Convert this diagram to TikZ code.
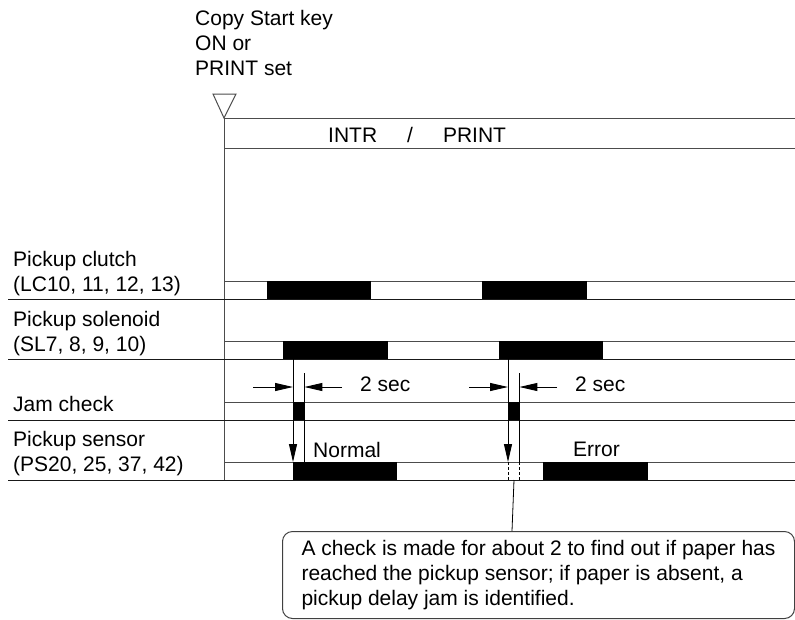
\documentclass[tikz,border=0pt]{standalone}
\usepackage{fontspec}
\setmainfont{Liberation Sans}
\usetikzlibrary{arrows.meta,positioning,calc}

\begin{document}
\begin{tikzpicture}[
    x=1pt, y=-1pt,
    every node/.style={font=\fontsize{21}{25}\selectfont},
    rowname/.style={anchor=north west, align=left, inner sep=0pt},
    timetext/.style={anchor=north west, inner sep=0pt},
    sigline/.style={draw=black!70, line width=1pt},
    rowline/.style={draw=black!90, line width=1pt},
    pulse/.style={rectangle, fill=black, draw=none, inner sep=0pt, minimum height=18pt, anchor=north west},
    arrow/.style={line width=0.9pt, -{Triangle[length=18pt, width=8pt]}},
    note/.style={rectangle, rounded corners=10pt, draw=black!75, line width=1pt, anchor=north west, minimum width=512pt, minimum height=87pt, align=left}
]
    \useasboundingbox (0,0) rectangle (795,619);

    % texts
    \node[rowname] (start) at (195,10) {Copy Start key\\ON or\\PRINT set};
    \node[timetext] (mode) at (328,127) {INTR\hspace{30pt}/\hspace{30pt}PRINT};
    \node[rowname] (clutch) at (13,251) {Pickup clutch\\(LC10, 11, 12, 13)};
    \node[rowname] (solenoid) at (13,311) {Pickup solenoid\\(SL7, 8, 9, 10)};
    \node[rowname] (jam) at (13,396) {Jam check};
    \node[rowname] (sensor) at (13,431) {Pickup sensor\\(PS20, 25, 37, 42)};

    % frame and signal lines
    \draw[sigline] (213,94) -- (236,94) -- (224,118) -- cycle;
    \draw[sigline] (224,118) -- (795,118);
    \draw[sigline] (224,148) -- (795,148);
    \draw[sigline] (224,118) -- (224,480);
    \draw[sigline] (224,281) -- (795,281);
    \draw[sigline] (224,341) -- (795,341);
    \draw[sigline] (224,402) -- (795,402);
    \draw[sigline] (224,462) -- (795,462);
    \draw[rowline] (8,299) -- (795,299);
    \draw[rowline] (8,359) -- (795,359);
    \draw[rowline] (8,420) -- (795,420);
    \draw[rowline] (8,480) -- (795,480);

    % pulses
    \node[pulse, minimum width=104pt] (clutchA) at (267,281) {};
    \node[pulse, minimum width=105pt] (clutchB) at (482,281) {};
    \node[pulse, minimum width=105pt] (solA) at (283,341) {};
    \node[pulse, minimum width=104pt] (solB) at (499,341) {};
    \node[pulse, minimum width=11pt] (jamA) at (293,402) {};
    \node[pulse, minimum width=11pt] (jamB) at (508,402) {};
    \node[pulse, minimum width=104pt] (senA) at (293,462) {};
    \node[pulse, minimum width=105pt] (senB) at (543,462) {};

    % first check: normal
    \coordinate (endA) at (304,373);
    \coordinate (inA) at (253,387);
    \coordinate (outA) at (342,387);
    \draw[arrow] (jamA.west |- solA.south) -- (senA.north west);
    \draw[line width=0.9pt] (endA) -- (endA |- senA.north);
    \draw[arrow] (inA) -- (inA -| jamA.west);
    \draw[arrow] (outA) -- (outA -| jamA.east);
    \node[timetext] (secA) at (360,377) {2 sec};
    \node[timetext] (normal) at (313,442) {Normal};

    % second check: error
    \coordinate (endB) at (519,373);
    \coordinate (inB) at (469,387);
    \coordinate (outB) at (557,387);
    \draw[arrow] (jamB.west |- solB.south) -- (jamB.west |- senA.north);
    \draw[line width=0.9pt] (endB) -- (endB |- senA.north);
    \draw[arrow] (inB) -- (inB -| jamB.west);
    \draw[arrow] (outB) -- (outB -| jamB.east);
    \draw[line width=0.8pt, dash pattern=on 3pt off 2pt] (jamB.west |- senA.north) -- (jamB.west |- senA.south);
    \draw[line width=0.8pt, dash pattern=on 3pt off 2pt] (jamB.east |- senA.north) -- (jamB.east |- senA.south);
    \node[timetext] (secB) at (575,377) {2 sec};
    \node[timetext] (error) at (573,442) {Error};

    % callout
    \node[note] (note) at (282,531) {A check is made for about 2 to find out if paper has\\reached the pickup sensor; if paper is absent, a\\pickup delay jam is identified.};
    \coordinate (missB) at (514,480);
    \draw[line width=0.8pt] (missB) -- ($(missB |- note.north)+(-2,0)$);

\end{tikzpicture}
\end{document}
